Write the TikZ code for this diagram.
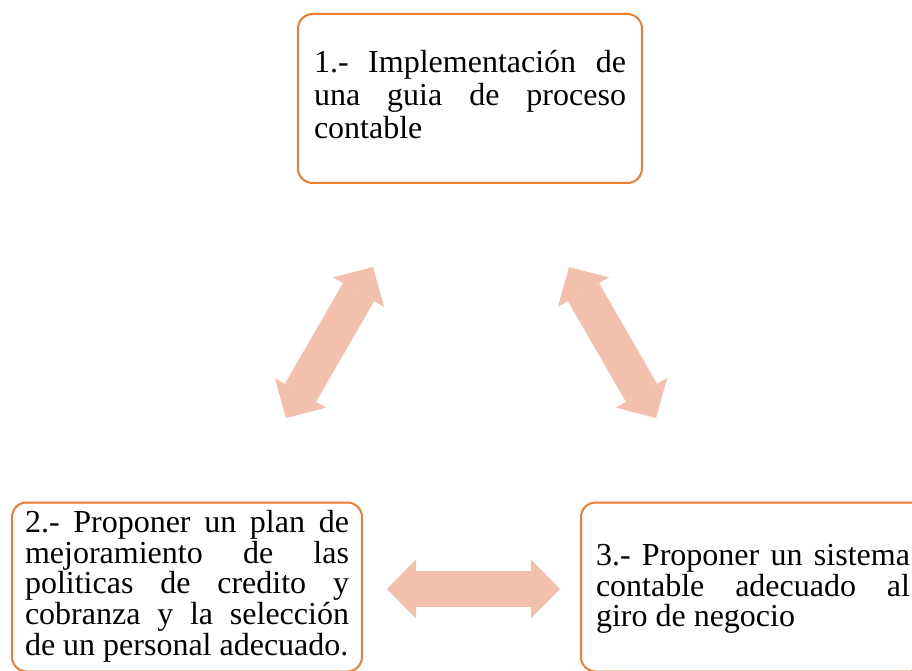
\documentclass[tikz,border=0pt]{standalone}
\usepackage{fontspec}
\setmainfont{Liberation Serif}
\usetikzlibrary{arrows.meta,positioning}
\definecolor{borde}{HTML}{ED7D31}
\definecolor{salmon}{HTML}{F4C0AE}
\hyphenpenalty=10000
\exhyphenpenalty=10000

\begin{document}
\begin{tikzpicture}[x=0.75pt,y=-0.75pt,node distance=366.375pt]

	\tikzstyle{paso}   = [rectangle, rounded corners=11pt, draw=borde, line width=1.5pt, fill=white, inner sep=0pt, minimum width=258pt, align=justify, font=\fontsize{24}{24.75}\selectfont]
	\tikzstyle{paso bajo} = [paso, font=\fontsize{24}{23}\selectfont]
	\tikzstyle{flecha} = [draw=salmon, line width=27pt, {Triangle[length=21.75pt,width=44.25pt,line width=0pt]}-{Triangle[length=21.75pt,width=44.25pt,line width=0pt]}]

	\useasboundingbox (0,0) rectangle (912,670);
	\clip (0,0) rectangle (912,670);

	\node [paso, text width=234pt, text height=44.25pt, text depth=82.5pt] (p1) at (470,98.5) {1.- Implementación de una guia de proceso contable};

	\node [paso bajo, text width=243pt, minimum width=262.5pt, text height=22.5pt, text depth=104.25pt] (p2) [below of=p1, xshift=-212.25pt] {2.- Proponer un plan de\linebreak mejoramiento de las politicas de credito y cobranza y la selección de un personal adecuado.};

	\node [paso bajo, text width=235.5pt, text height=47.25pt, text depth=79.5pt] (p3) [below of=p1, xshift=212.25pt] {3.- Proponer un sistema contable adecuado al giro de negocio};

	\coordinate (f1a) at (373,267);
	\coordinate (f1b) at (286,418);
	\coordinate (f2a) at (569,267);
	\coordinate (f2b) at (656,418);
	\coordinate (f3a) at (387,589);
	\coordinate (f3b) at (560,589);

	\draw [flecha] (f1a) -- (f1b);
	\draw [flecha] (f2a) -- (f2b);
	\draw [flecha] (f3a) -- (f3b);
\end{tikzpicture}
\end{document}
